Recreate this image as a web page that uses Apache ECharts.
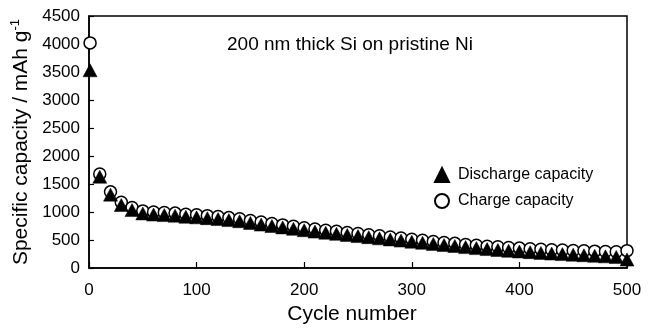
<!DOCTYPE html>
<html>
<head>
<meta charset="utf-8">
<script src="https://cdn.jsdelivr.net/npm/echarts@6/dist/echarts.min.js"></script>
<style>
html,body{margin:0;padding:0;background:#fff;}
#chart{width:653px;height:330px;}
</style>
</head>
<body>
<div id="chart"></div>
<script>
var cycles = [1,10,20,30,40,50,60,70,80,90,100,110,120,130,140,150,160,170,180,190,200,210,220,230,240,250,260,270,280,290,300,310,320,330,340,350,360,370,380,390,400,410,420,430,440,450,460,470,480,490,500];
var chargeCap = [4020,1680,1360,1175,1080,1020,1000,990,980,960,950,935,920,900,880,850,820,795,770,745,720,695,675,655,635,615,595,575,555,535,515,495,475,455,440,420,405,390,378,366,355,345,335,327,320,313,307,301,296,291,310];
var dischargeCap = [3530,1630,1310,1125,1035,975,955,945,935,915,905,890,875,855,835,805,775,750,725,700,675,650,630,610,590,570,550,530,510,490,470,450,430,410,393,373,355,338,322,308,295,283,270,258,248,238,228,218,208,198,150];
var xTicks = [0,100,200,300,400,500];
var yTicks = [0,500,1000,1500,2000,2500,3000,3500,4000,4500];

function pairs(xs, ys){ return xs.map(function(x,i){ return [x, ys[i]]; }); }

var font = '"Liberation Sans", Arial, Helvetica, sans-serif';
var chart = echarts.init(document.getElementById('chart'), null, {renderer:'canvas'});
chart.setOption({
  animation:false,
  backgroundColor:'#fff',
  textStyle:{fontFamily:font, color:'#000'},
  grid:{left:89, right:26, top:16, bottom:61, show:true, borderColor:'#000', borderWidth:1.5, backgroundColor:'transparent'},
  xAxis:{
    type:'value', min:xTicks[0], max:xTicks[xTicks.length-1], interval:100,
    name:'Cycle number', nameLocation:'middle', nameGap:36,
    nameTextStyle:{fontSize:21, fontFamily:font, color:'#000', padding:[0,12,0,0]},
    axisLine:{show:true, lineStyle:{color:'#000', width:1.5}},
    axisTick:{show:true, inside:true, length:6, lineStyle:{color:'#000', width:1.2}},
    axisLabel:{fontSize:17, fontFamily:font, color:'#000', margin:14, formatter:function(v){return String(v);}},
    splitLine:{show:false}
  },
  yAxis:{
    type:'value', min:yTicks[0], max:yTicks[yTicks.length-1], interval:500,
    name:'Specific capacity / mAh g{sup|-1}', nameLocation:'middle', nameGap:50,
    nameTextStyle:{fontSize:21, fontFamily:font, color:'#000',
      rich:{sup:{fontSize:13, fontFamily:font, color:'#000', verticalAlign:'top', padding:[0,0,10,0]}}},
    axisLine:{show:true, lineStyle:{color:'#000', width:1.5}},
    axisTick:{show:true, inside:true, length:5, lineStyle:{color:'#000', width:1.2}},
    axisLabel:{fontSize:17, fontFamily:font, color:'#000', margin:9, formatter:function(v){return String(v);}},
    splitLine:{show:false}
  },
  legend:{
    orient:'vertical', left:429, top:162, itemGap:10, itemWidth:14, itemHeight:14,
    data:['Discharge capacity','Charge capacity'],
    textStyle:{fontSize:16, fontFamily:font, color:'#000', padding:[0,0,0,4]}
  },
  graphic:[{
    type:'text', left:227, top:35,
    style:{text:'200 nm thick Si on pristine Ni', font:'19px '+font, fill:'#000'}
  }],
  series:[
    {
      name:'Charge capacity', type:'scatter', symbol:'circle', symbolSize:12, clip:false, z:2,
      itemStyle:{color:'#fff', borderColor:'#000', borderWidth:1.5, opacity:1},
      data:pairs(cycles, chargeCap)
    },
    {
      name:'Discharge capacity', type:'scatter', symbol:'triangle', symbolSize:[14,13], clip:false, z:3,
      itemStyle:{color:'#000', borderColor:'#000', borderWidth:0.5, opacity:1},
      data:pairs(cycles, dischargeCap)
    }
  ]
});
</script>
</body>
</html>
